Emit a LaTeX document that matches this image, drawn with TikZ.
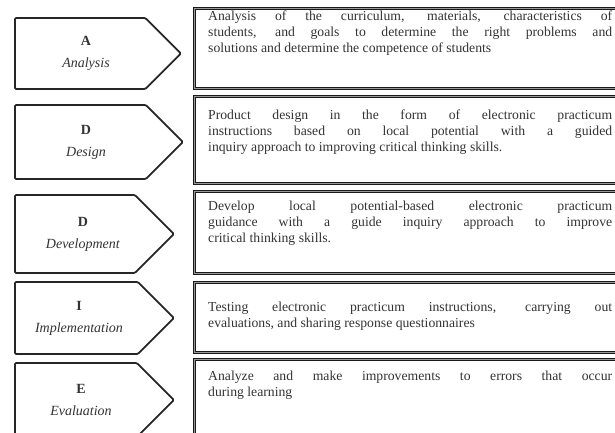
\documentclass[tikz,border=0pt]{standalone}
\usepackage{fontspec}
\setmainfont{Liberation Serif}
\usetikzlibrary{shapes.symbols, positioning}

\tikzset{
  stage/.style={signal, signal to=east, signal pointer angle=90, draw=black!85, line width=1.8pt,
    rounded corners=1.2pt, fill=white, inner sep=0pt, anchor=west},
  stagename/.style={align=center, inner sep=0pt, text=black!80, font=\fontsize{14}{22}\selectfont},
  frame/.style={draw=black!90, line width=1pt, double=black!40, double distance=0.5pt,
    inner sep=0pt, anchor=north west, minimum width=440pt},
  desc/.style={inner sep=0pt, text width=404pt, align=justify, text=black!80,
    font=\fontsize{13.7}{16}\selectfont},
}

\begin{document}
\begin{tikzpicture}[x=1pt, y=-1pt]
  \useasboundingbox (0,0) rectangle (615,433);

  % ADDIE stages
  \node[stage, minimum width=166pt, minimum height=71pt] (sA) at (14,53.5) {};
  \node[stage, minimum width=168pt, minimum height=74pt] (sD1) at (14,142) {};
  \node[stage, minimum width=159pt, minimum height=78pt] (sD2) at (14,234) {};
  \node[stage, minimum width=159pt, minimum height=72pt] (sI) at (14,318) {};
  \node[stage, minimum width=159pt, minimum height=74pt] (sE) at (14,400) {};

  \node[stagename] (nA) at ([xshift=72pt]sA.west) {\textbf{A}\\\textit{Analysis}};
  \node[stagename] (nD1) at ([xshift=72pt]sD1.west) {\textbf{D}\\\textit{Design}};
  \node[stagename] (nD2) at ([xshift=69pt]sD2.west) {\textbf{D}\\\textit{Development}};
  \node[stagename] (nI) at ([xshift=65pt]sI.west) {\textbf{I}\\\textit{Implementation}};
  \node[stagename] (nE) at ([xshift=67pt]sE.west) {\textbf{E}\\\textit{Evaluation}};

  % description frames
  \node[frame, minimum height=80pt] (fA) at (194,8) {};
  \node[frame, minimum height=87pt] (fD1) at (194,96) {};
  \node[frame, minimum height=82pt] (fD2) at (194,191) {};
  \node[frame, minimum height=70pt] (fI) at (194,282) {};
  \node[frame, minimum height=90pt] (fE) at (194,359) {};

  \node[desc, below right=3pt and 14pt of fA.north west] (tA)
    {Analysis of the curriculum, materials, characteristics of\linebreak
     students, and goals to determine the right problems and\linebreak
     solutions and determine the competence of students};
  \node[desc, below right=14pt and 14pt of fD1.north west] (tD1)
    {Product design in the form of electronic practicum\linebreak
     instructions based on local potential with a guided\linebreak
     inquiry approach to improving critical thinking skills.};
  \node[desc, below right=10pt and 14pt of fD2.north west] (tD2)
    {Develop local potential-based electronic practicum\linebreak
     guidance with a guide inquiry approach to improve\linebreak
     critical thinking skills.};
  \node[desc, below right=20pt and 14pt of fI.north west] (tI)
    {Testing electronic practicum instructions, carrying out\linebreak
     evaluations, and sharing response questionnaires};
  \node[desc, below right=12pt and 14pt of fE.north west] (tE)
    {Analyze and make improvements to errors that occur\linebreak
     during learning};
\end{tikzpicture}
\end{document}
